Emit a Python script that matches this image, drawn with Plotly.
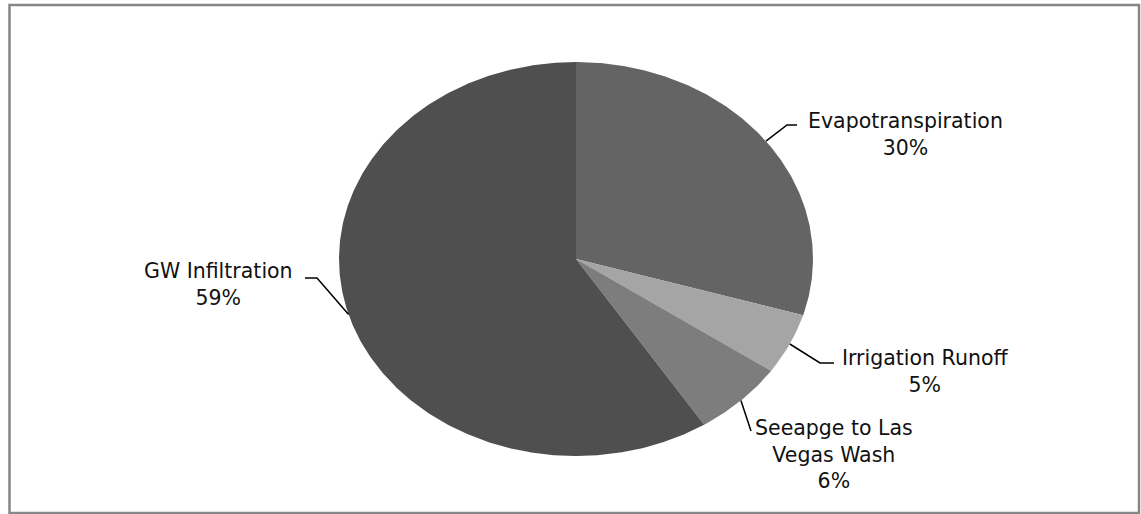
import numpy as np
import plotly.graph_objects as go

# slice data (clockwise from 12 o'clock)
labels = ["Evapotranspiration", "Irrigation Runoff", "Seeapge to Las<br>Vegas Wash", "GW Infiltration"]
shares = [29.6, 5.0, 6.3, 59.1]
pct_text = ["30%", "5%", "6%", "59%"]
colors = ["#646464", "#a5a5a5", "#7d7d7d", "#4f4f4f"]

# layout constants (pixel space)
W, H = 1141, 514
cx, cy, rx, ry = 576, 259, 237, 197

# label placement (text centre x, y) and leader elbow/end points
label_pos = [(905, 134), (925, 371), (834, 454), (218, 284)]
leader_pts = [[(787, 125), (797, 125)],
              [(820, 363), (834, 363)],
              [(751, 431)],
              [(317, 278), (305, 278)]]


def ell(theta):
    # theta in degrees, clockwise from top
    t = np.radians(theta)
    return cx + rx * np.sin(t), cy - ry * np.cos(t)


fig = go.Figure()
total = sum(shares)
start = 0.0
for i, v in enumerate(shares):
    a0 = start / total * 360
    a1 = (start + v) / total * 360
    th = np.linspace(a0, a1, max(int((a1 - a0) * 2), 8))
    ex, ey = ell(th)
    xs = [cx] + list(ex) + [cx]
    ys = [cy] + list(ey) + [cy]
    fig.add_trace(go.Scatter(x=xs, y=ys, fill="toself", fillcolor=colors[i], mode="lines",
                             line=dict(width=0, color=colors[i]), hoverinfo="skip", showlegend=False))
    # leader line from the slice middle on the edge
    mx, my = ell((a0 + a1) / 2)
    lx = [mx] + [p[0] for p in leader_pts[i]]
    ly = [my] + [p[1] for p in leader_pts[i]]
    fig.add_trace(go.Scatter(x=lx, y=ly, mode="lines", line=dict(color="black", width=1.5),
                             hoverinfo="skip", showlegend=False))
    tx, ty = label_pos[i]
    fig.add_annotation(x=tx, y=ty, text=labels[i] + "<br>" + pct_text[i], showarrow=False,
                       xanchor="center", yanchor="middle", align="center",
                       font=dict(family="DejaVu Sans", size=20.5, color="#111111"))
    start += v

fig.add_shape(type="rect", x0=9.5, x1=1139, y0=5, y1=513, line=dict(color="#868686", width=2.5))

fig.update_layout(
    width=W, height=H,
    margin=dict(l=0, r=0, t=0, b=0),
    paper_bgcolor="white", plot_bgcolor="white",
    xaxis=dict(range=[0, W], visible=False, fixedrange=True),
    yaxis=dict(range=[H, 0], visible=False, fixedrange=True),
)

fig.write_html("out.html", config={"displayModeBar": False},
               post_script="document.body.style.margin='0px';")
